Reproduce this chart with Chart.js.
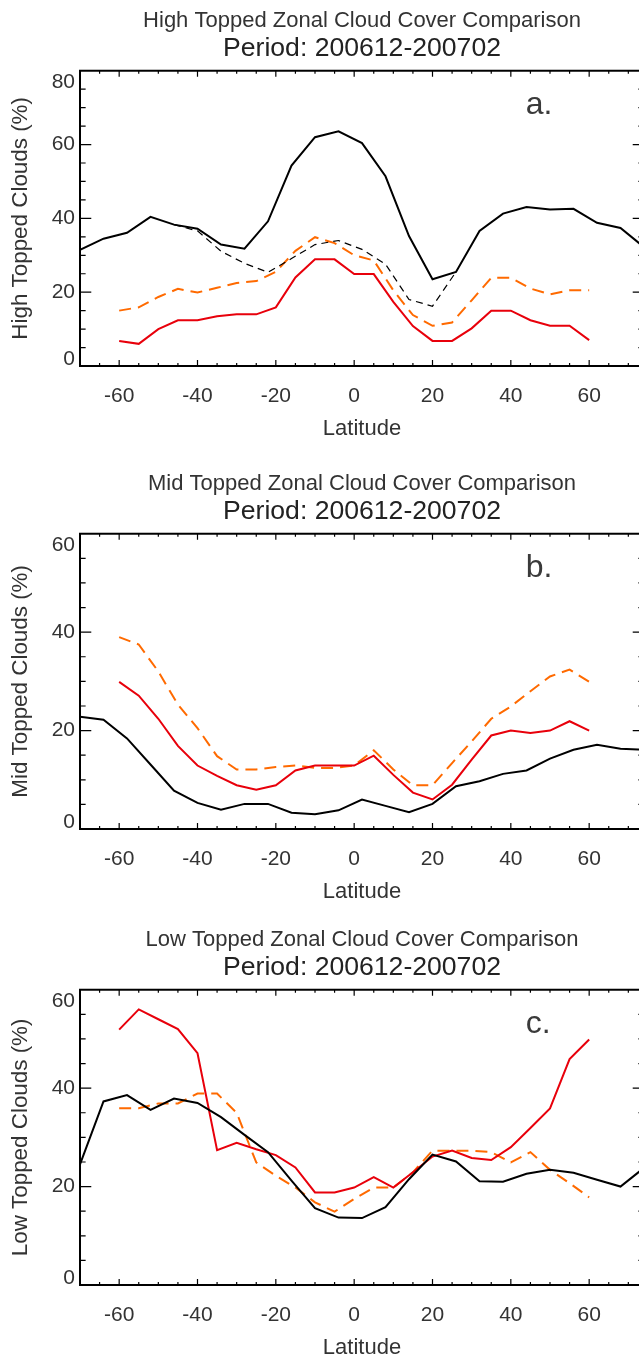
<!DOCTYPE html>
<html>
<head>
<meta charset="utf-8">
<script src="https://cdn.jsdelivr.net/npm/chart.js@4.4.1/dist/chart.umd.min.js"></script>
<style>
  html, body { margin: 0; padding: 0; background: #fff; overflow: hidden; width: 639px; height: 1355px; }
  .panel { position: absolute; left: 0; width: 724px; height: 443px; }
</style>
</head>
<body>
<div class="panel" style="top:0px"><canvas id="chartHigh" width="724" height="443"></canvas></div>
<div class="panel" style="top:463px"><canvas id="chartMid" width="724" height="443"></canvas></div>
<div class="panel" style="top:919px"><canvas id="chartLow" width="724" height="443"></canvas></div>
<script>
// latitude grids
const latObs = [-70, -64, -58, -52, -46, -40, -34, -28, -22, -16, -10, -4, 2, 8, 14, 20, 26, 32, 38, 44, 50, 56, 62, 68, 74];
const latObsDashed = [-46, -40, -34, -28, -22, -16, -10, -4, 2, 8, 14, 20, 26];
const latModel = [-60, -55, -50, -45, -40, -35, -30, -25, -20, -15, -10, -5, 0, 5, 10, 15, 20, 25, 30, 35, 40, 45, 50, 55, 60];

const xTickVals = [-60, -40, -20, 0, 20, 40, 60];
const yTicksHigh = [0, 20, 40, 60, 80];
const yTicksMidLow = [0, 20, 40, 60];

// a. high topped
const highObs = [31.5, 34.5, 36.1, 40.4, 38.3, 37.2, 32.9, 31.8, 39.2, 54.3, 62.0, 63.6, 60.4, 51.4, 35.2, 23.5, 25.5, 36.6, 41.3, 43.1, 42.4, 42.6, 38.8, 37.4, 32.2];
const highObsDashed = [38.3, 36.6, 31.1, 27.8, 25.4, 29.1, 32.9, 34.0, 31.6, 27.6, 18.0, 16.2, 25.5];
const highRed = [6.8, 6.0, 10.0, 12.4, 12.4, 13.5, 14.0, 14.0, 15.9, 24.0, 28.9, 28.9, 24.9, 24.9, 17.4, 10.8, 6.8, 6.8, 10.2, 15.0, 15.0, 12.4, 10.9, 10.9, 7.0];
const highOrange = [15.0, 15.9, 18.7, 20.9, 19.9, 21.2, 22.5, 23.0, 25.5, 31.2, 34.9, 33.3, 30.0, 28.6, 20.5, 13.8, 10.9, 11.8, 17.8, 23.9, 23.9, 21.0, 19.4, 20.5, 20.5];

// b. mid topped
const midObs = [22.8, 22.2, 18.4, 13.1, 7.8, 5.3, 3.9, 5.1, 5.1, 3.3, 3.0, 3.8, 6.0, 4.7, 3.4, 5.1, 8.7, 9.7, 11.2, 11.9, 14.3, 16.1, 17.1, 16.3, 16.1];
const midRed = [29.9, 27.1, 22.4, 16.9, 12.9, 10.8, 8.9, 8.0, 8.9, 11.9, 12.9, 12.9, 12.9, 14.9, 11.0, 7.4, 6.0, 9.0, 14.1, 19.0, 20.0, 19.5, 20.0, 21.9, 20.0];
const midOrange = [39.0, 37.5, 32.0, 25.3, 20.5, 14.8, 12.1, 12.1, 12.6, 12.9, 12.4, 12.4, 12.9, 16.0, 12.1, 8.9, 8.9, 13.4, 17.8, 22.4, 24.9, 28.0, 31.0, 32.4, 29.9];

// c. low topped
const lowObs = [24.5, 37.3, 38.6, 35.6, 37.9, 37.0, 34.1, 30.5, 27.0, 21.2, 15.6, 13.7, 13.6, 15.8, 21.5, 26.5, 25.1, 21.1, 21.0, 22.6, 23.4, 22.8, 21.4, 20.0, 23.8];
const lowRed = [51.9, 56.0, 54.0, 52.0, 47.1, 27.4, 28.9, 27.6, 26.4, 23.9, 18.8, 18.8, 19.8, 21.9, 19.8, 22.9, 26.1, 27.3, 25.8, 25.4, 28.0, 31.9, 35.9, 45.9, 49.9];
const lowOrange = [35.9, 35.9, 36.9, 36.9, 38.9, 38.9, 35.0, 24.9, 22.2, 19.8, 16.8, 14.9, 17.5, 19.8, 19.8, 22.9, 27.3, 27.3, 27.3, 27.0, 24.9, 27.0, 23.4, 20.7, 17.8];

const FONT = "'Liberation Sans', Arial, Helvetica, sans-serif";
const TEXT = '#333';

const pts = (xs, ys) => xs.map((x, i) => ({ x: x, y: ys[i] }));

// IDL style box with inward ticks + panel letter
const idlFrame = {
    id: 'idlFrame',
    afterDraw(chart, args, opts) {
        const { ctx, chartArea: a, scales: { x, y } } = chart;
        const w = a.right - a.left, h = a.bottom - a.top;
        ctx.save();
        ctx.strokeStyle = '#000';
        ctx.lineWidth = 1.2;
        ctx.beginPath();
        for (let v = Math.ceil(x.min / 5) * 5; v <= x.max; v += 5) {
            const px = x.getPixelForValue(v);
            const len = (v % 20 === 0 ? 0.02 : 0.01) * h;
            ctx.moveTo(px, a.bottom); ctx.lineTo(px, a.bottom - len);
            ctx.moveTo(px, a.top); ctx.lineTo(px, a.top + len);
        }
        for (let v = y.min + 5; v < y.max; v += 5) {
            const py = y.getPixelForValue(v);
            const len = (v % 20 === 0 ? 0.02 : 0.01) * w;
            ctx.moveTo(a.left, py); ctx.lineTo(a.left + len, py);
            ctx.moveTo(a.right, py); ctx.lineTo(a.right - len, py);
        }
        ctx.stroke();
        ctx.lineWidth = 2;
        ctx.strokeRect(a.left, a.top, w, h);
        ctx.fillStyle = '#3a3a3a';
        ctx.font = '32px ' + FONT;
        ctx.textAlign = 'left';
        ctx.textBaseline = 'alphabetic';
        ctx.fillText(opts.letter, x.getPixelForValue(43.8), a.top + 43);
        ctx.restore();
    }
};

function makePanel(id, cfg) {
    const datasets = [
        { data: pts(latObs, cfg.obs), borderColor: '#000', borderWidth: 2 },
    ];
    if (cfg.obsDashed) {
        datasets.push({ data: pts(latObsDashed, cfg.obsDashed), borderColor: '#000', borderWidth: 1.2, borderDash: [7, 5] });
    }
    datasets.push({ data: pts(latModel, cfg.red), borderColor: '#e8000b', borderWidth: 2 });
    datasets.push({ data: pts(latModel, cfg.orange), borderColor: '#ff6a00', borderWidth: 2, borderDash: [12, 7] });
    datasets.forEach(d => { d.pointRadius = 0; d.tension = 0; d.fill = false; d.yAxisID = 'y'; });

    const yTicks = cfg.yTicks;
    return new Chart(document.getElementById(id), {
        type: 'line',
        data: { datasets: datasets },
        plugins: [idlFrame],
        options: {
            responsive: false,
            animation: false,
            layout: { padding: 0 },
            plugins: {
                legend: { display: false },
                tooltip: { enabled: false },
                idlFrame: { letter: cfg.letter },
                title: {
                    display: true,
                    text: cfg.title,
                    color: TEXT,
                    font: { family: FONT, size: 22, weight: 'normal', lineHeight: 1.0 },
                    padding: { top: 10, bottom: 5 }
                },
                subtitle: {
                    display: true,
                    text: 'Period: 200612-200702',
                    color: '#222',
                    font: { family: FONT, size: 26.6, weight: 'normal', lineHeight: 0.9 },
                    padding: { top: 0, bottom: 9.8 }
                }
            },
            scales: {
                x: {
                    type: 'linear',
                    min: -70,
                    max: 74,
                    grid: { display: false, drawTicks: false },
                    border: { display: false },
                    afterBuildTicks: s => { s.ticks = xTickVals.map(v => ({ value: v })); },
                    afterFit: s => { s.height = 77; },
                    ticks: {
                        autoSkip: false,
                        maxRotation: 0,
                        padding: 17.4,
                        color: TEXT,
                        font: { family: FONT, size: 21 },
                        callback: v => String(v)
                    },
                    title: {
                        display: true,
                        text: 'Latitude',
                        color: TEXT,
                        font: { family: FONT, size: 22 },
                        padding: { top: 4, bottom: 1 }
                    }
                },
                y: {
                    type: 'linear',
                    position: 'left',
                    min: 0,
                    max: yTicks[yTicks.length - 1],
                    grid: { display: false, drawTicks: false },
                    border: { display: false },
                    afterBuildTicks: s => { s.ticks = yTicks.map(v => ({ value: v })); },
                    afterFit: s => { s.width = 80; },
                    ticks: {
                        padding: 5,
                        color: TEXT,
                        // IDL keeps the end labels inside the axis range
                        callback: (v, i, t) => i === 0 ? [String(v), ''] : (i === t.length - 1 ? ['', String(v)] : String(v)),
                        font: c => {
                            const v = c.tick ? c.tick.value : null;
                            let lh = 1.2;
                            if (v === 0) lh = '13px';
                            else if (v === yTicks[yTicks.length - 1]) lh = '22px';
                            return { family: FONT, size: 21, lineHeight: lh };
                        }
                    },
                    title: {
                        display: true,
                        text: cfg.yTitle,
                        color: TEXT,
                        font: { family: FONT, size: 22.4 },
                        padding: { top: 7, bottom: 0 }
                    }
                },
                // empty right axis, keeps the plot box where the original has it
                yRight: {
                    type: 'linear',
                    position: 'right',
                    grid: { display: false, drawTicks: false },
                    border: { display: false },
                    ticks: { display: false },
                    afterFit: s => { s.width = 80; }
                }
            }
        }
    });
}

makePanel('chartHigh', {
    title: 'High Topped Zonal Cloud Cover Comparison',
    yTitle: 'High Topped Clouds (%)',
    letter: 'a.',
    yTicks: yTicksHigh,
    obs: highObs,
    obsDashed: highObsDashed,
    red: highRed,
    orange: highOrange
});

makePanel('chartMid', {
    title: 'Mid Topped Zonal Cloud Cover Comparison',
    yTitle: 'Mid Topped Clouds (%)',
    letter: 'b.',
    yTicks: yTicksMidLow,
    obs: midObs,
    red: midRed,
    orange: midOrange
});

makePanel('chartLow', {
    title: 'Low Topped Zonal Cloud Cover Comparison',
    yTitle: 'Low Topped Clouds (%)',
    letter: 'c.',
    yTicks: yTicksMidLow,
    obs: lowObs,
    red: lowRed,
    orange: lowOrange
});
</script>
</body>
</html>
